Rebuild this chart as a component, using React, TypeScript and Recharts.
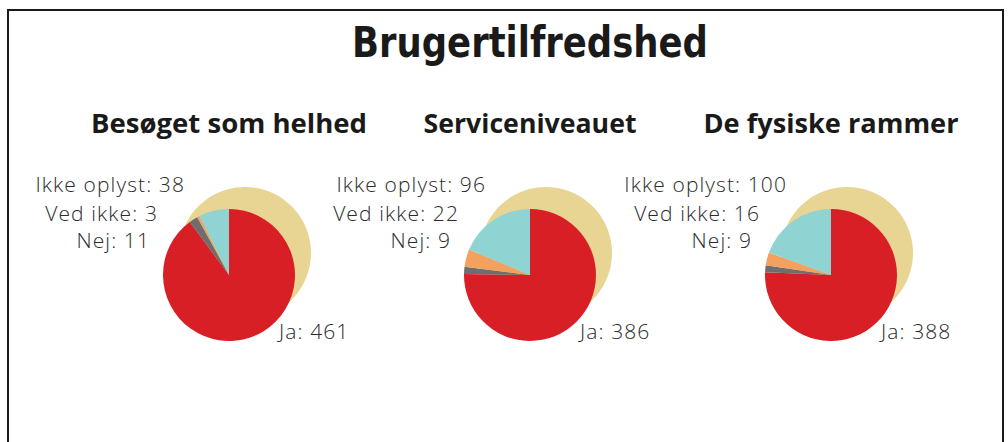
import React from 'react';
import { PieChart, Pie, Cell } from 'recharts';

const chartTitle = 'Brugertilfredshed';
const categories = ['Ja', 'Nej', 'Ved ikke', 'Ikke oplyst'];
const panelTitles = ['Besøget som helhed', 'Serviceniveauet', 'De fysiske rammer'];
const besoegetValues = [461, 11, 3, 38];
const serviceValues = [386, 9, 22, 96];
const rammerValues = [388, 9, 16, 100];

const sliceColors = ['#d91f26', '#6e6d70', '#f4a05e', '#8fd3d2'];
const shadowColor = '#e8d594';

const W = 1008;
const H = 442;
const panelX = [229, 530, 831];
const pieY = 275;
const radius = 66;

// where each label sits relative to the pie centre (Ja, Nej, Ved ikke, Ikke oplyst)
const labelPos = [
  { dx: 50, dy: 64, anchor: 'start' },
  { dx: -79, dy: -27, anchor: 'end' },
  { dx: -71, dy: -54, anchor: 'end' },
  { dx: -44, dy: -83, anchor: 'end' },
];

const toRows = (values: number[]) =>
  categories.map((name, i) => ({ name, value: values[i] }));

const panels = [besoegetValues, serviceValues, rammerValues].map(toRows);
const shadowData = [{ name: 'skygge', value: 1 }];

const renderLabel = (props: any) => {
  const { cx, cy, index, name, value } = props;
  const p = labelPos[index];
  return (
    <text
      x={cx + p.dx}
      y={cy + p.dy}
      textAnchor={p.anchor as any}
      fill="#2b2b2b"
      fontFamily="'Open Sans', sans-serif"
      fontWeight={300}
      fontSize={21}
      letterSpacing={1.1}
    >
      {`${name}: ${value}`}
    </text>
  );
};

const App = () => {
  return (
    <div style={{ position: 'absolute', left: 0, top: 0, width: W, height: H, background: '#fff' }}>
      <svg width={W} height={H} style={{ position: 'absolute', left: 0, top: 0 }}>
        <path d={`M8 ${H} L8 10 L1003 10 L1003 ${H}`} fill="none" stroke="#1a1a1a" strokeWidth={2} />
        <text
          x={530}
          y={57}
          textAnchor="middle"
          fontFamily="'DejaVu Sans Condensed', 'DejaVu Sans', sans-serif"
          fontWeight="bold"
          fontSize={43}
          fill="#1a1a1a"
          textLength={356}
          lengthAdjust="spacingAndGlyphs"
        >
          {chartTitle}
        </text>
        {panelTitles.map((t, i) => (
          <text
            key={t}
            x={panelX[i]}
            y={133}
            textAnchor="middle"
            fontFamily="'Open Sans', sans-serif"
            fontWeight="bold"
            fontSize={27}
            fill="#1a1a1a"
            textLength={[276, 213, 255][i]}
            lengthAdjust="spacingAndGlyphs"
          >
            {t}
          </text>
        ))}
      </svg>
      <PieChart
        width={W}
        height={H}
        margin={{ top: 0, right: 0, bottom: 0, left: 0 }}
        style={{ position: 'absolute', left: 0, top: 0 }}
      >
        {panels.map((_, i) => (
          <Pie
            key={`s${i}`}
            data={shadowData}
            dataKey="value"
            cx={panelX[i] + 16}
            cy={pieY - 22}
            outerRadius={radius}
            fill={shadowColor}
            stroke="none"
            isAnimationActive={false}
          />
        ))}
        {panels.map((rows, i) => (
          <Pie
            key={`p${i}`}
            data={rows}
            dataKey="value"
            nameKey="name"
            cx={panelX[i]}
            cy={pieY}
            outerRadius={radius}
            startAngle={90}
            endAngle={-270}
            stroke="none"
            label={renderLabel}
            labelLine={false}
            isAnimationActive={false}
          >
            {rows.map((r, j) => (
              <Cell key={r.name} fill={sliceColors[j]} />
            ))}
          </Pie>
        ))}
      </PieChart>
    </div>
  );
};

export default App;
